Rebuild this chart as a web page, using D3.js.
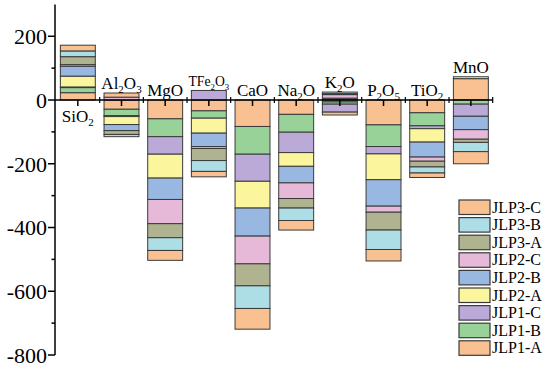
<!DOCTYPE html>
<html>
<head>
<meta charset="utf-8">
<script src="https://cdn.jsdelivr.net/npm/d3@7"></script>
<style>
  body { margin: 0; background: #fff; }
  svg { display: block; }
</style>
</head>
<body>
<div id="chart"></div>
<script>
// Oxides along the x axis and the nine samples stacked in each bar
const oxides = ["SiO2", "Al2O3", "MgO", "TFe2O3", "CaO", "Na2O", "K2O", "P2O5", "TiO2", "MnO"];
const samples = ["JLP1-A", "JLP1-B", "JLP1-C", "JLP2-A", "JLP2-B", "JLP2-C", "JLP3-A", "JLP3-B", "JLP3-C"];
const colors = ["#f9c192", "#98d298", "#bba9d7", "#fbf59e", "#98b8e2", "#e6b9d9", "#b0b38f", "#addde5", "#f9c192"];

// values per sample, one per oxide (same order as oxides)
const jlp1A = [23, -29, -59, -34, -83, -45, -6, -78, -40, 67];
const jlp1B = [16, -20, -56, -23, -87, -56, -7, -68, -41, -13];
const jlp1C = [2, -3, -55, 30, -85, -64, -25, -23, -9, -38];
const jlp2A = [34, -25, -75, -47, -84, -43, 2, -81, -42, 6];
const jlp2B = [31, -19, -67, -42, -88, -52, 4, -83, -47, -42];
const jlp2C = [5, 9, -76, -6, -87, -49, 11, -19, -13, -30];
const jlp3A = [25, -12, -44, -38, -69, -30, 3, -56, -18, -10];
const jlp3B = [18, -7, -40, -34, -71, -39, 5, -61, -19, -29];
const jlp3C = [18, 13, -31, -17, -65, -30, -9, -36, -14, -38];

const yTicks = [-800, -600, -400, -200, 0, 200];
const yMinor = [-700, -500, -300, -100, 100];

const series = [jlp1A, jlp1B, jlp1C, jlp2A, jlp2B, jlp2C, jlp3A, jlp3B, jlp3C];

// table for d3.stack
const table = oxides.map((ox, i) => {
  const row = { oxide: ox };
  samples.forEach((s, j) => { row[s] = series[j][i]; });
  return row;
});

const width = 550, height = 370;
const svg = d3.select("#chart").append("svg")
  .attr("width", width)
  .attr("height", height);

const x = d3.scaleBand()
  .domain(oxides)
  .range([56, 492.7])
  .paddingInner(0.2)
  .paddingOuter(0.1);

const y = d3.scaleLinear()
  .domain([-800, 300])
  .range([355, 4.4]);

const stacked = d3.stack()
  .keys(samples)
  .offset(d3.stackOffsetDiverging)(table);

const color = d3.scaleOrdinal().domain(samples).range(colors);

// bars
svg.append("g")
  .selectAll("g")
  .data(stacked)
  .join("g")
  .attr("fill", d => color(d.key))
  .selectAll("rect")
  .data(d => d)
  .join("rect")
  .attr("x", d => x(d.data.oxide))
  .attr("width", x.bandwidth())
  .attr("y", d => y(Math.max(d[0], d[1])))
  .attr("height", d => Math.abs(y(d[0]) - y(d[1])))
  .attr("stroke", "#3a3a3a")
  .attr("stroke-width", 1);

const font = "Liberation Serif, serif";

// y axis
const yAxis = svg.append("g").attr("stroke", "#000");
yAxis.append("line")
  .attr("x1", 55).attr("x2", 55)
  .attr("y1", y(300)).attr("y2", y(-800))
  .attr("stroke-width", 1.5);
yAxis.selectAll(".maj").data(yTicks).join("line")
  .attr("x1", 48).attr("x2", 55)
  .attr("y1", d => y(d)).attr("y2", d => y(d))
  .attr("stroke-width", 1.5);
yAxis.selectAll(".min").data(yMinor).join("line")
  .attr("x1", 51.5).attr("x2", 55)
  .attr("y1", d => y(d)).attr("y2", d => y(d))
  .attr("stroke-width", 1.5);
svg.append("g").selectAll("text").data(yTicks).join("text")
  .attr("x", 47)
  .attr("y", d => y(d))
  .attr("dy", "0.36em")
  .attr("text-anchor", "end")
  .attr("font-family", font)
  .attr("font-size", 22)
  .text(d => d);

// x axis at zero
const xAxis = svg.append("g").attr("stroke", "#000");
xAxis.append("line")
  .attr("x1", 55).attr("x2", 493)
  .attr("y1", y(0)).attr("y2", y(0))
  .attr("stroke-width", 1.5);
xAxis.selectAll(".maj").data(oxides).join("line")
  .attr("x1", d => x(d) + x.bandwidth() / 2)
  .attr("x2", d => x(d) + x.bandwidth() / 2)
  .attr("y1", y(0)).attr("y2", y(0) + 6)
  .attr("stroke-width", 1.5);
const bounds = d3.range(oxides.length + 1).map(i => 56 + i * x.step());
xAxis.selectAll(".min").data(bounds.slice(1)).join("line")
  .attr("x1", d => d).attr("x2", d => d)
  .attr("y1", y(0) - 3).attr("y2", y(0) + 3)
  .attr("stroke-width", 1.2);

// oxide labels with subscripts
const labels = svg.append("g");
oxides.forEach((ox, i) => {
  const posTop = d3.max(stacked, s => s[i][1]);
  const below = posTop > 100;
  const t = labels.append("text")
    .attr("text-anchor", "middle")
    .attr("x", x(ox) + x.bandwidth() / 2)
    .attr("y", below ? y(0) + 22 : y(Math.max(0, posTop)) - 4)
    .attr("font-family", font)
    .attr("font-size", 17);
  let shifted = false;
  ox.split(/(\d+)/).filter(p => p).forEach(p => {
    const isSub = /\d/.test(p);
    const ts = t.append("tspan").text(p);
    if (isSub) {
      ts.attr("dy", 4).attr("font-size", 11).attr("class", "sub");
      shifted = true;
    } else if (shifted) {
      ts.attr("dy", -4);
      shifted = false;
    }
  });
  // shrink wide labels so they fit in one column
  const w = t.node().getComputedTextLength();
  if (w > x.step() - 3) {
    const k = (x.step() - 3) / w;
    t.attr("font-size", 17 * k);
    t.selectAll("tspan.sub").attr("font-size", 11 * k);
  }
});

// legend, newest sample on top
const legend = svg.append("g");
const legItems = legend.selectAll("g")
  .data(samples.slice().reverse())
  .join("g")
  .attr("transform", (d, i) => `translate(459, ${200 + i * 17.6})`);
legItems.append("rect")
  .attr("width", 31)
  .attr("height", 14.5)
  .attr("fill", d => color(d))
  .attr("stroke", "#3a3a3a")
  .attr("stroke-width", 1.2);
legItems.append("text")
  .attr("x", 33)
  .attr("y", 12.5)
  .attr("font-family", font)
  .attr("font-size", 16)
  .text(d => d);
</script>
</body>
</html>
